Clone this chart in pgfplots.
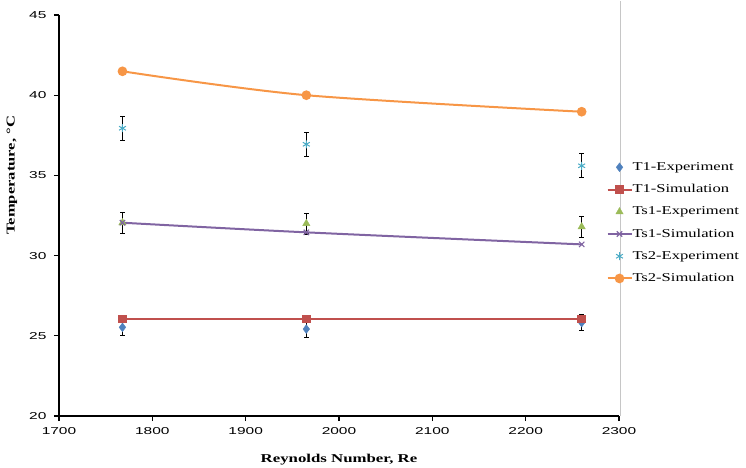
\documentclass[border=0pt]{standalone}
\usepackage{pgfplots}
\pgfplotsset{compat=1.18}
\usepackage{graphicx}
\usepackage{fontspec}
\setmainfont{Liberation Serif}
\newfontfamily\tickfont{Liberation Sans}
\newcommand{\wide}[2]{\scalebox{#1}[1]{#2}}
\definecolor{xblue}{HTML}{4F81BD}
\definecolor{xred}{HTML}{C0504D}
\definecolor{xgreen}{HTML}{9BBB59}
\definecolor{xpurple}{HTML}{8064A2}
\definecolor{xaqua}{HTML}{4BACC6}
\definecolor{xorange}{HTML}{F79646}
\pgfplotsset{
  expbars/.style={
    error bars/.cd,
      y dir=both, y explicit,
      error bar style={line width=1.1pt, black},
      error mark options={rotate=90, mark size=2.2pt, line width=1.1pt, black},
  },
}

\begin{document}
\begin{tikzpicture}
\useasboundingbox (-59pt,-51pt) rectangle (687pt,416pt);
\begin{axis}[
  scale only axis,
  width=560pt, height=401pt,
  xmin=1700, xmax=2300,
  ymin=20, ymax=45,
  xtick={1700,1800,...,2300},
  ytick={20,25,...,45},
  axis x line*=bottom,
  axis y line*=left,
  axis line style={line width=1.2pt, black, -},
  tick style={line width=1.2pt, black},
  tick align=outside,
  major tick length=5pt,
  clip=false,
  /pgf/number format/assume math mode=true,
  /pgf/number format/1000 sep={},
  ticklabel style={font=\tickfont\fontsize{10}{12}\selectfont},
  xticklabel={\wide{1.55}{\pgfmathprintnumber{\tick}}},
  yticklabel={\wide{1.55}{\pgfmathprintnumber{\tick}}},
  xticklabel style={yshift=-3pt},
  yticklabel style={xshift=-4pt},
  xlabel={\wide{1.4}{\bfseries Reynolds Number, Re}},
  ylabel={\wide{1.38}{\bfseries Temperature, °C}},
  label style={font=\fontsize{12}{14}\selectfont},
  xlabel style={at={(axis description cs:0.5,-0.11)}, anchor=center},
  ylabel style={at={(axis description cs:-0.084,0.60)}, anchor=center},
  legend style={at={(rel axis cs:0.972,0.64)}, anchor=north west, draw=none, fill=none,
    font=\fontsize{12}{14}\selectfont, row sep=10.6pt,
    nodes={inner xsep=0pt, inner ysep=1pt}},
  legend cell align=left,
  legend image code/.code={%
    \draw[mark repeat=2, mark phase=2, #1] plot coordinates {(0pt,0pt) (12pt,0pt) (24pt,0pt)};},
]
% plot area right border
\draw[gray!45, line width=0.8pt] (axis cs:2302,20) -- (axis cs:2302,45.9);

% T1-Experiment
\addplot[only marks, mark=diamond*, mark size=4.4pt, color=xblue, mark options={fill=xblue}, expbars]
  coordinates {(1768,25.53) +- (0,0.5) (1965,25.42) +- (0,0.5) (2260,25.82) +- (0,0.5)};
\addlegendentry{\wide{1.38}{T1-Experiment}}
% T1-Simulation
\addplot[color=xred, line width=2pt, mark=square*, mark size=3.4pt, mark options={fill=xred}]
  coordinates {(1768,26.05) (1965,26.05) (2260,26.05)};
\addlegendentry{\wide{1.38}{T1-Simulation}}
% Ts1-Experiment
\addplot[only marks, mark=triangle*, mark size=4.2pt, color=xgreen, mark options={fill=xgreen}, expbars]
  coordinates {(1768,32.05) +- (0,0.65) (1965,32.0) +- (0,0.65) (2260,31.8) +- (0,0.65)};
\addlegendentry{\wide{1.38}{Ts1-Experiment}}
% Ts1-Simulation
\addplot[smooth, color=xpurple, line width=2pt, mark=x, mark size=3.8pt, mark options={line width=1.1pt}]
  coordinates {(1768,32.05) (1965,31.45) (2260,30.7)};
\addlegendentry{\wide{1.38}{Ts1-Simulation}}
% Ts2-Experiment
\addplot[only marks, mark=asterisk, mark size=4pt, color=xaqua, mark options={line width=1pt}, expbars]
  coordinates {(1768,37.94) +- (0,0.75) (1965,36.94) +- (0,0.75) (2260,35.6) +- (0,0.75)};
\addlegendentry{\wide{1.38}{Ts2-Experiment}}
% Ts2-Simulation
\addplot[smooth, color=xorange, line width=2pt, mark=*, mark size=3.8pt, mark options={fill=xorange}]
  coordinates {(1768,41.49) (1965,40.0) (2260,38.97)};
\addlegendentry{\wide{1.38}{Ts2-Simulation}}
\end{axis}
\end{tikzpicture}
\end{document}
